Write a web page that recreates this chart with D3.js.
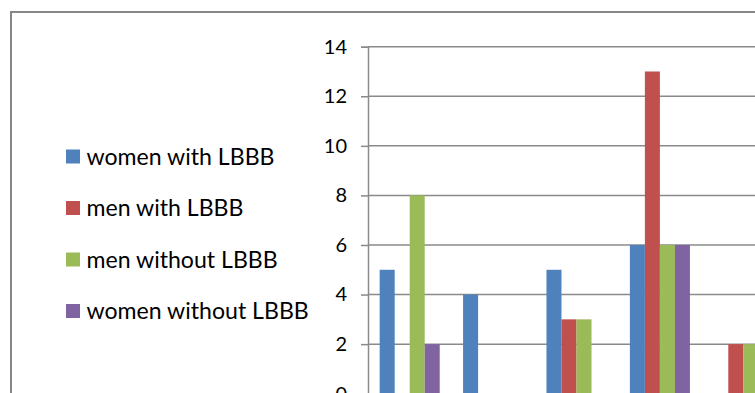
<!DOCTYPE html>
<html>
<head>
<meta charset="utf-8">
<script src="https://cdn.jsdelivr.net/npm/d3@7"></script>
<style>
  html, body { margin: 0; padding: 0; background: #fff; overflow: hidden; }
  svg { display: block; }
  text { font-family: Lato, "Open Sans", sans-serif; fill: #000; }
</style>
</head>
<body>
<svg id="chart" width="755" height="393"></svg>
<script>
// Grouped bar chart: counts per group for four patient series
const categories = ["A", "B", "C", "D", "E"];
const seriesNames = ["women with LBBB", "men with LBBB", "men without LBBB", "women without LBBB"];
const seriesColors = ["#4F81BD", "#C0504D", "#9BBB59", "#8064A2"];
const womenWithLBBB = [5, 4, 5, 6, 0];
const menWithLBBB = [0, 0, 3, 13, 2];
const menWithoutLBBB = [8, 0, 3, 6, 2];
const womenWithoutLBBB = [2, 0, 0, 6, 0];
const yTicks = [0, 2, 4, 6, 8, 10, 12, 14];

const seriesValues = [womenWithLBBB, menWithLBBB, menWithoutLBBB, womenWithoutLBBB];

const svg = d3.select("#chart");

// outer chart frame
svg.append("rect")
  .attr("x", 11).attr("y", 12)
  .attr("width", 900).attr("height", 600)
  .attr("fill", "none")
  .attr("stroke", "#878787")
  .attr("stroke-width", 2);

const plotLeft = 368, plotTop = 46.7, plotBottom = 393.7;
const step = 83.4;
const plotRight = plotLeft + step * categories.length;

const y = d3.scaleLinear().domain([0, 14]).range([plotBottom, plotTop]);
const x = d3.scaleBand().domain(categories).range([plotLeft, plotRight])
  .paddingInner(0.28).paddingOuter(0.14);
const xs = d3.scaleBand().domain(d3.range(seriesNames.length)).range([0, x.bandwidth()]);

// horizontal gridlines
svg.append("g").selectAll("line").data(yTicks.filter(d => d > 0)).join("line")
  .attr("x1", plotLeft).attr("x2", plotRight)
  .attr("y1", d => y(d)).attr("y2", d => y(d))
  .attr("stroke", "#8a8a8a").attr("stroke-width", 1.5);

// bars
const groups = svg.append("g").selectAll("g").data(categories).join("g")
  .attr("transform", c => `translate(${x(c)},0)`);
groups.selectAll("rect")
  .data((c, i) => seriesValues.map((vals, s) => ({ s, v: vals[i] })))
  .join("rect")
  .attr("x", d => xs(d.s))
  .attr("width", xs.bandwidth())
  .attr("y", d => y(d.v))
  .attr("height", d => y(0) - y(d.v))
  .attr("fill", d => seriesColors[d.s]);

// y axis
const yAxis = d3.axisLeft(y).tickValues(yTicks).tickSize(7).tickPadding(14);
const ga = svg.append("g").attr("transform", `translate(${plotLeft},0)`).call(yAxis);
ga.select(".domain").attr("stroke", "#8a8a8a").attr("stroke-width", 1.5);
ga.selectAll(".tick line").attr("stroke", "#8a8a8a").attr("stroke-width", 1.5);
ga.selectAll(".tick text").attr("font-size", 20).attr("font-family", "Lato, sans-serif").attr("fill", "#000");

// legend
const legend = svg.append("g").selectAll("g").data(seriesNames).join("g")
  .attr("transform", (d, i) => `translate(66,${156.5 + i * 51.5})`);
legend.append("rect")
  .attr("x", 0).attr("y", -7).attr("width", 14).attr("height", 14)
  .attr("fill", (d, i) => seriesColors[i]);
legend.append("text")
  .attr("x", 20.5).attr("y", 0).attr("dy", "0.35em")
  .attr("font-size", 23.1)
  .text(d => d);
</script>
</body>
</html>
